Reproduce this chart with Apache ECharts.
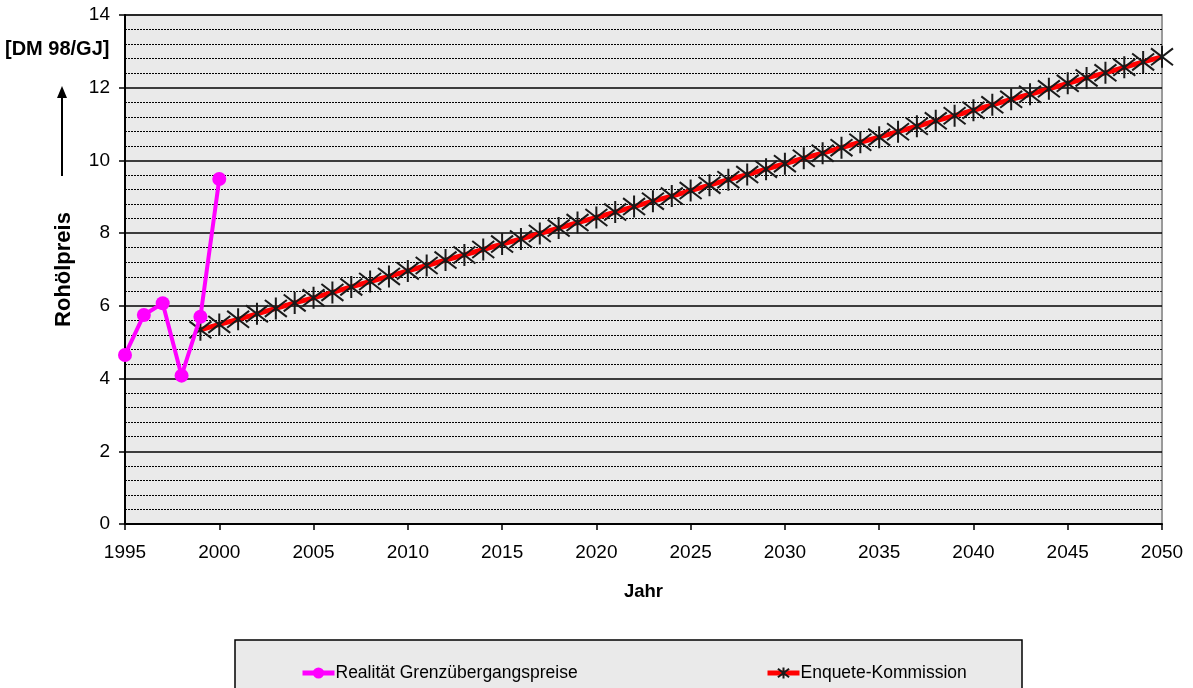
<!DOCTYPE html>
<html>
<head>
<meta charset="utf-8">
<script src="https://cdn.jsdelivr.net/npm/echarts@6/dist/echarts.min.js"></script>
<style>
  html, body { margin: 0; padding: 0; background: #fff; }
  #chart { width: 1193px; height: 688px; }
</style>
</head>
<body>
<div id="chart"></div>
<script>
// Rohölpreis in DM 98/GJ
const realYears = [1995, 1996, 1997, 1998, 1999, 2000];
const realValues = [4.65, 5.75, 6.07, 4.08, 5.70, 9.49];

const enqueteYears = [
  1999, 2000, 2001, 2002, 2003, 2004, 2005, 2006, 2007, 2008,
  2009, 2010, 2011, 2012, 2013, 2014, 2015, 2016, 2017, 2018,
  2019, 2020, 2021, 2022, 2023, 2024, 2025, 2026, 2027, 2028,
  2029, 2030, 2031, 2032, 2033, 2034, 2035, 2036, 2037, 2038,
  2039, 2040, 2041, 2042, 2043, 2044, 2045, 2046, 2047, 2048,
  2049, 2050
];
const enqueteValues = [
  5.34, 5.49, 5.63, 5.78, 5.93, 6.08, 6.22, 6.37, 6.52, 6.67,
  6.81, 6.96, 7.11, 7.26, 7.40, 7.55, 7.70, 7.84, 7.99, 8.14,
  8.29, 8.43, 8.58, 8.73, 8.88, 9.02, 9.17, 9.32, 9.47, 9.61,
  9.76, 9.91, 10.06, 10.20, 10.35, 10.50, 10.64, 10.79, 10.94, 11.09,
  11.23, 11.38, 11.53, 11.68, 11.82, 11.97, 12.12, 12.27, 12.41, 12.56,
  12.71, 12.85
];

const seriesNames = ['Realität Grenzübergangspreise', 'Enquete-Kommission'];

const FONT = '"Liberation Sans", Arial, sans-serif';
// asterisk marker: X with a vertical bar
const starPath = 'path://M0,0L10,10M10,0L0,10M5,-1.5L5,11.5';

const chart = echarts.init(document.getElementById('chart'), null, { renderer: 'canvas' });

const legendText = { fontFamily: FONT, fontSize: 17.5, color: '#000', padding: [0, 0, 0, -4] };

chart.setOption({
  animation: false,
  backgroundColor: '#ffffff',
  textStyle: { fontFamily: FONT },
  grid: {
    left: 125, top: 15, right: 31, bottom: 164,
    show: true, backgroundColor: '#eaeaea', borderColor: '#9a9a9a', borderWidth: 2
  },
  xAxis: {
    type: 'value',
    min: 1995, max: 2050, interval: 5,
    name: 'Jahr',
    nameLocation: 'middle',
    nameGap: 58,
    nameTextStyle: { fontFamily: FONT, fontSize: 18.5, fontWeight: 'bold', color: '#000' },
    axisLine: { show: true, onZero: false, lineStyle: { color: '#000', width: 2 } },
    axisTick: { show: true, length: 6, lineStyle: { color: '#000', width: 1.5 } },
    axisLabel: { fontFamily: FONT, fontSize: 19, color: '#000', margin: 19, formatter: v => String(v) },
    splitLine: { show: false }
  },
  yAxis: {
    type: 'value',
    min: 0, max: 14, interval: 2,
    name: 'Rohölpreis',
    nameLocation: 'middle',
    nameRotate: 90,
    nameGap: 50,
    nameTextStyle: { fontFamily: FONT, fontSize: 22, fontWeight: 'bold', color: '#000' },
    axisLine: { show: true, lineStyle: { color: '#000', width: 2 } },
    axisTick: { show: true, length: 6, lineStyle: { color: '#000', width: 1.5 } },
    axisLabel: { fontFamily: FONT, fontSize: 19, color: '#000', margin: 15 },
    splitLine: { show: true, lineStyle: { color: '#000', width: 1.5 } },
    minorTick: { show: false, splitNumber: 5 },
    minorSplitLine: { show: true, lineStyle: { color: '#000', width: 1, type: [2, 1] } }
  },
  legend: [
    {
      left: 295, top: 659,
      itemWidth: 32, itemHeight: 14,
      lineStyle: { width: 5 },
      textStyle: legendText,
      data: [seriesNames[0]]
    },
    {
      left: 760, top: 659,
      itemWidth: 32, itemHeight: 14,
      lineStyle: { width: 5 },
      textStyle: legendText,
      data: [seriesNames[1]]
    }
  ],
  graphic: [
    {
      type: 'rect', z: -1, silent: true,
      shape: { x: 235, y: 640, width: 787, height: 60 },
      style: { fill: '#eaeaea', stroke: '#000', lineWidth: 1.5 }
    },
    {
      type: 'text', left: 5, top: 39,
      style: { text: '[DM 98/GJ]', fill: '#000', font: 'bold 20px ' + FONT }
    },
    {
      type: 'line', silent: true,
      shape: { x1: 62, y1: 176, x2: 62, y2: 96 },
      style: { stroke: '#000', lineWidth: 2 }
    },
    {
      type: 'polygon', silent: true,
      shape: { points: [[62, 86], [57, 98], [67, 98]] },
      style: { fill: '#000' }
    }
  ],
  series: [
    {
      name: seriesNames[0],
      type: 'line',
      data: realYears.map((y, i) => [y, realValues[i]]),
      symbol: 'circle', symbolSize: 14,
      lineStyle: { color: '#ff00ff', width: 4 },
      itemStyle: { color: '#ff00ff' },
      z: 3
    },
    {
      name: seriesNames[1],
      type: 'line',
      data: enqueteYears.map((y, i) => [y, enqueteValues[i]]),
      symbol: starPath, symbolSize: 22,
      lineStyle: { color: '#ff0000', width: 5 },
      itemStyle: { color: 'rgba(0,0,0,0)', borderColor: '#1a1a1a', borderWidth: 2 },
      z: 2
    }
  ]
});
</script>
</body>
</html>
